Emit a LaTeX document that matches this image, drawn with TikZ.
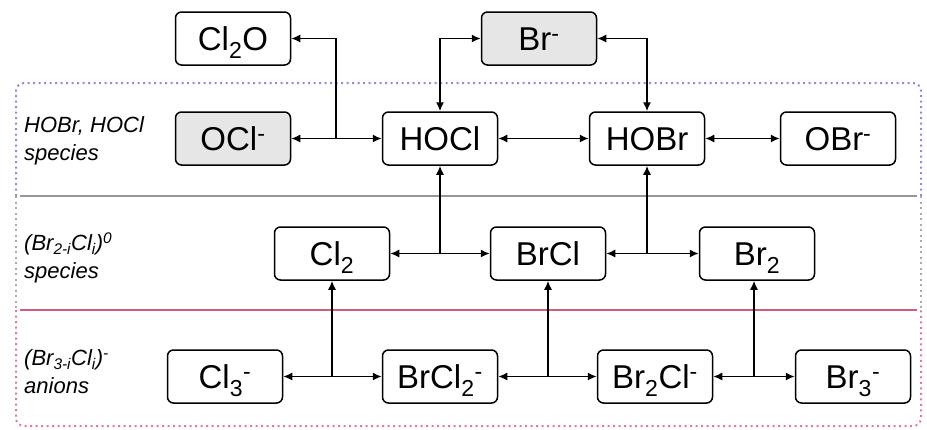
\documentclass[tikz,border=0pt]{standalone}
\usepackage{fontspec}
\setmainfont{Liberation Sans}
\usetikzlibrary{arrows.meta}
\definecolor{lav}{RGB}{140,140,225}
\definecolor{gline}{RGB}{150,150,150}
\definecolor{pinkd}{RGB}{225,120,150}
\definecolor{pinkl}{RGB}{205,95,120}
\definecolor{gfill}{RGB}{230,230,230}
\begin{document}
\begin{tikzpicture}[x=1pt,y=-1pt,
  box/.style={draw=black, line width=1.5pt, rounded corners=6pt, minimum width=115pt, minimum height=53pt, inner sep=0pt, font=\fontsize{33}{40}\selectfont, text height=24pt, text depth=0pt},
  gbox/.style={box, fill=gfill},
  tip/.tip={Latex[length=9pt,width=8pt]},
  link/.style={line width=1.5pt, tip-tip},
  linkstart/.style={line width=1.5pt, tip-},
  linkend/.style={line width=1.5pt, -tip},
  lbl/.style={anchor=west, align=left, inner sep=0pt, font=\fontsize{22}{28}\selectfont\itshape},
  dotline/.style={line width=2pt, dash pattern=on 2pt off 3.5pt, rounded corners=8pt}
]
\useasboundingbox (0,0) rectangle (927,429);
% bands
\draw[dotline, lav] (16,196) -- (16,83) -- (921,83) -- (921,196);
\draw[dotline, gline!80] (16,196) -- (16,310);
\draw[dotline, gline!80] (921,196) -- (921,310);
\draw[dotline, pinkd] (16,310) -- (16,426) -- (921,426) -- (921,310);
\draw[gline, line width=2.5pt] (20,196) -- (917,196);
\draw[pinkl, line width=2pt] (20,310) -- (917,310);
% labels
\node[lbl] (l1) at (24,141) {HOBr, HOCl\\species};
\node[lbl] (l2) at (24,258) {(Br\textsubscript{2-\textit{i}}Cl\textsubscript{\textit{i}})\textsuperscript{0}\\species};
\node[lbl] (l3) at (24,372) {(Br\textsubscript{3-\textit{i}}Cl\textsubscript{\textit{i}})\textsuperscript{-}\\anions};
% nodes
\node[box]  (cl2o)  at (233,38.5) {Cl\textsubscript{2}O};
\node[gbox] (brm)   at (539,38.5) {Br\textsuperscript{-}};
\node[gbox] (oclm)  at (233,138.5) {OCl\textsuperscript{-}};
\node[box]  (hocl)  at (440,138.5) {HOCl};
\node[box]  (hobr)  at (647,138.5) {HOBr};
\node[box]  (obrm)  at (838,138.5) {OBr\textsuperscript{-}};
\node[box]  (cl2)   at (332,253.5) {Cl\textsubscript{2}};
\node[box]  (brcl)  at (548,253.5) {BrCl};
\node[box]  (br2)   at (757,253.5) {Br\textsubscript{2}};
\node[box]  (cl3)   at (225,376.5) {Cl\textsubscript{3}\textsuperscript{-}};
\node[box]  (brcl2) at (440,376.5) {BrCl\textsubscript{2}\textsuperscript{-}};
\node[box]  (br2cl) at (655,376.5) {Br\textsubscript{2}Cl\textsuperscript{-}};
\node[box]  (br3)   at (853,376.5) {Br\textsubscript{3}\textsuperscript{-}};
% connectors
\coordinate (j0) at (336,138.5);
\draw[linkstart] (cl2o.east) -| (j0);
\draw[link] (oclm.east) -- (hocl.west);
\draw[link] (hocl.north) |- (brm.west);
\draw[link] (brm.east) -| (hobr.north);
\draw[link] (hocl.east) -- (hobr.west);
\draw[link] (hobr.east) -- (obrm.west);
\draw[link] (cl2.east) -- (brcl.west);
\draw[link] (brcl.east) -- (br2.west);
\coordinate (j1) at (hocl |- cl2);
\coordinate (j2) at (hobr |- br2);
\draw[linkend] (j1) -- (hocl.south);
\draw[linkend] (j2) -- (hobr.south);
\draw[link] (cl3.east) -- (brcl2.west);
\draw[link] (brcl2.east) -- (br2cl.west);
\draw[link] (br2cl.east) -- (br3.west);
\coordinate (j3) at (cl2 |- cl3);
\coordinate (j4) at (brcl |- cl3);
\coordinate (j5) at (754,376.5);
\draw[linkend] (j3) -- (cl2.south);
\draw[linkend] (j4) -- (brcl.south);
\draw[linkend] (j5) -- (br2.south -| j5);
\end{tikzpicture}
\end{document}
